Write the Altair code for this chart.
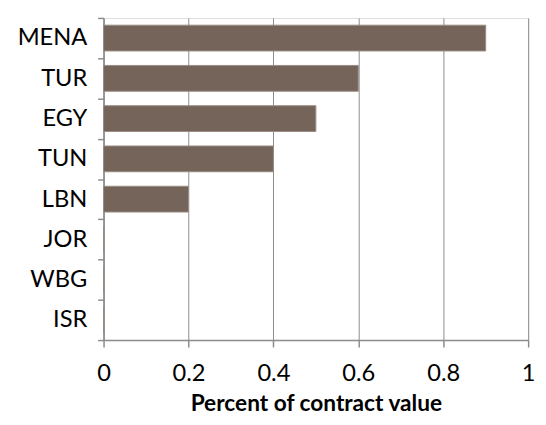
import altair as alt
import pandas as pd

categories = ["MENA", "TUR", "EGY", "TUN", "LBN", "JOR", "WBG", "ISR"]
values = [0.9, 0.6, 0.5, 0.4, 0.2, 0.0, 0.0, 0.0]
x_ticks = [0, 0.2, 0.4, 0.6, 0.8, 1]

df = pd.DataFrame({"country": categories, "share": values})

FONT = "Lato"
GRID = "#8c8c8c"

chart = (
    alt.Chart(df)
    .mark_bar(
        color="#75645a",
        stroke="#9a8c83",
        strokeWidth=1,
        height=alt.RelativeBandSize(0.64),
    )
    .encode(
        x=alt.X(
            "share:Q",
            scale=alt.Scale(domain=[0, 1], nice=False, zero=True),
            axis=alt.Axis(
                values=x_ticks,
                format="~g",
                title="Percent of contract value",
                titleFont=FONT,
                titleFontSize=23,
                titleFontWeight="bold",
                titleColor="#000000",
                titlePadding=7,
                labelFont=FONT,
                labelFontSize=24,
                labelColor="#000000",
                labelPadding=15,
                labelFlush=False,
                grid=True,
                gridColor=GRID,
                gridWidth=1,
                domainColor=GRID,
                domainWidth=1.5,
                tickColor=GRID,
                tickSize=7,
                tickWidth=1.5,
            ),
        ),
        y=alt.Y(
            "country:N",
            sort=categories,
            scale=alt.Scale(paddingInner=0, paddingOuter=0),
            axis=alt.Axis(
                title=None,
                tickBand="extent",
                labelFont=FONT,
                labelFontSize=24,
                labelColor="#000000",
                labelPadding=11,
                domainColor=GRID,
                domainWidth=1.5,
                tickColor=GRID,
                tickSize=6,
                tickWidth=1.5,
                grid=False,
            ),
        ),
    )
    .properties(
        width=431,
        height=327,
        autosize=alt.AutoSizeParams(type="none"),
        padding={"left": 97, "top": 7, "right": 10, "bottom": 75},
    )
    .configure_view(stroke=None)
    .configure(background="#ffffff")
)

chart.save("out.html", embed_options={"renderer": "svg", "actions": False})
